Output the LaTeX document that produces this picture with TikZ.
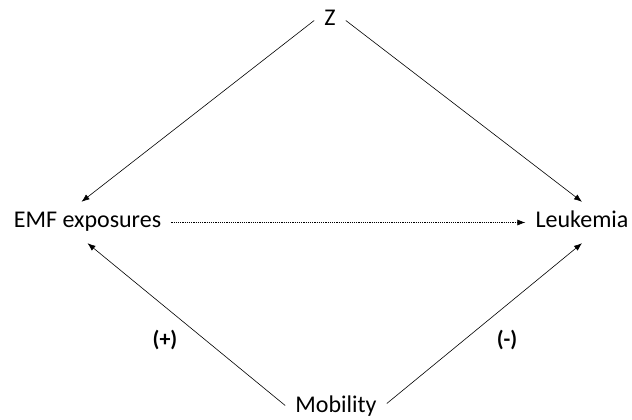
\documentclass[tikz,border=0pt]{standalone}
\usepackage{fontspec}
\setmainfont{Carlito}
\usetikzlibrary{arrows.meta}

\begin{document}
\begin{tikzpicture}[
  x=1pt,y=1pt,
  var/.style={font=\fontsize{24}{28}\selectfont,inner sep=10pt,anchor=base,
    text height=16pt,text depth=5pt},
  sgn/.style={font=\fontsize{22}{26}\selectfont\bfseries},
  ar/.style={-{Latex[length=8pt,width=6pt]},line width=0.6pt},
]
  \useasboundingbox (0,0) rectangle (632,420);
  % variables
  \node[var] (Z) at (330,394) {Z};
  \node[var] (EMF) at (87.5,192) {EMF exposures};
  \node[var] (L) at (582,192) {Leukemia};
  \node[var] (M) at (336,7) {Mobility};
  % signs
  \node[sgn] (P) at (165,80) {(+)};
  \node[sgn] (N) at (507,80) {(-)};
  % arrows
  \draw[ar] (Z.west) -- ([xshift=-6pt]EMF.north);
  \draw[ar] (Z.east) -- (L.north);
  \draw[ar] ([yshift=2pt]M.west) -- (EMF.south);
  \draw[ar] ([yshift=4pt]M.east) -- (L.south);
  \draw[ar,dash pattern=on 1.2pt off 1pt] (EMF.east) -- (L.west);
\end{tikzpicture}
\end{document}
